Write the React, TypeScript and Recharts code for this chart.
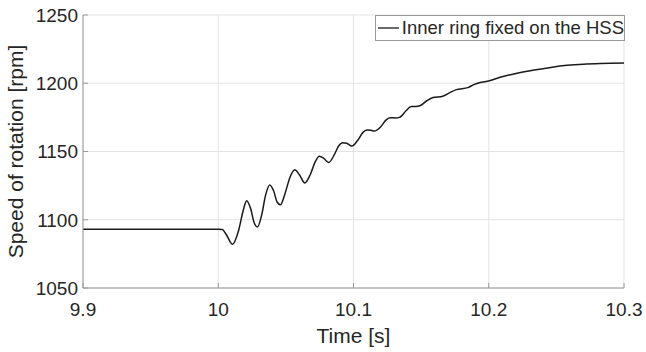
import { CartesianGrid, Line, LineChart, XAxis, YAxis } from "recharts";

const timeSeconds = [
  9.9, 9.95, 10.0, 10.003, 10.006, 10.0105, 10.015, 10.0185, 10.021, 10.024, 10.0265, 10.029,
  10.032, 10.035, 10.038, 10.041, 10.0435, 10.046, 10.049, 10.053, 10.0566, 10.06, 10.064,
  10.068, 10.0715, 10.0748, 10.078, 10.0816, 10.086, 10.089, 10.092, 10.095, 10.0988, 10.103,
  10.107, 10.11, 10.113, 10.1152, 10.12, 10.124, 10.127, 10.131, 10.134, 10.139, 10.1426,
  10.146, 10.149, 10.154, 10.1588, 10.166, 10.171, 10.176, 10.1846, 10.189, 10.193, 10.2005,
  10.209, 10.221, 10.2336, 10.2458, 10.258, 10.27, 10.2826, 10.3
];

const speedRpm = [
  1093, 1093, 1093, 1092.8, 1089, 1082, 1092, 1107, 1114, 1108, 1098, 1094.7,
  1103, 1118, 1125.5, 1121, 1113, 1111, 1118, 1131, 1136.6, 1133, 1127,
  1133, 1142, 1146.5, 1145, 1142, 1148, 1154, 1156.5, 1156, 1154, 1158,
  1164, 1165.7, 1165.5, 1165, 1168, 1173, 1174.7, 1174.6, 1175, 1180, 1183,
  1183, 1183.5, 1187, 1189.5, 1190.5, 1193, 1195.3, 1196.8, 1199, 1200.3, 1201.8,
  1204.6, 1207.4, 1209.7, 1211.6, 1213.1, 1214, 1214.5, 1214.8
];

const xTicks = [9.9, 10, 10.1, 10.2, 10.3];
const yTicks = [1050, 1100, 1150, 1200, 1250];
const seriesName = "Inner ring fixed on the HSS";

const data = timeSeconds.map((t, i) => ({ t, speed: speedRpm[i] }));

const FONT = "'Liberation Sans', Arial, sans-serif";
const TEXT = "#262626";
const BOX = "#999999";
const LINE = "#1a1a1a";
const TICK_LEN = 5;
const TICK_FONT = 19;

function BottomTick({ x, y, payload }: any) {
  return (
    <g>
      <line x1={x} y1={y} x2={x} y2={y - TICK_LEN} stroke={BOX} />
      <text x={x} y={y + 27.5} textAnchor="middle" fill={TEXT} fontSize={TICK_FONT} fontFamily={FONT}>
        {payload.value}
      </text>
    </g>
  );
}

function LeftTick({ x, y, payload }: any) {
  return (
    <g>
      <line x1={x} y1={y} x2={x + TICK_LEN} y2={y} stroke={BOX} />
      <text x={x - 5} y={y} dy="0.36em" textAnchor="end" fill={TEXT} fontSize={TICK_FONT} fontFamily={FONT}>
        {payload.value}
      </text>
    </g>
  );
}

function TopTick({ x, y }: any) {
  return <line x1={x} y1={y} x2={x} y2={y + TICK_LEN} stroke={BOX} />;
}

function RightTick({ x, y }: any) {
  return <line x1={x} y1={y} x2={x - TICK_LEN} y2={y} stroke={BOX} />;
}

// legend drawn like MATLAB's: boxed, sitting in the top right corner of the axes
function LegendBox() {
  return (
    <div
      style={{
        position: "absolute",
        left: 375,
        top: 15,
        width: 250,
        height: 26,
        boxSizing: "border-box",
        display: "flex",
        alignItems: "center",
        border: `1px solid ${BOX}`,
        background: "#fff",
        paddingLeft: 2,
        fontFamily: FONT,
        fontSize: 18.5,
        color: TEXT,
        whiteSpace: "nowrap"
      }}
    >
      <svg width={21} height={10} style={{ marginRight: 3 }}>
        <line x1={0} y1={5} x2={21} y2={5} stroke={LINE} strokeWidth={1.3} />
      </svg>
      {seriesName}
    </div>
  );
}

export default function App() {
  return (
    <div style={{ position: "absolute", left: 0, top: 0, width: 646, height: 352, background: "#fff" }}>
      <LineChart width={646} height={352} data={data} margin={{ top: 15, right: 22, bottom: 0, left: 0 }}>
        <CartesianGrid stroke="#e3e3e3" horizontalValues={yTicks} verticalValues={xTicks} />
        <XAxis
          dataKey="t"
          type="number"
          domain={[9.9, 10.3]}
          ticks={xTicks}
          allowDataOverflow
          height={64}
          stroke={BOX}
          tickLine={false}
          tickSize={0}
          tickMargin={0}
          tick={<BottomTick />}
          interval={0}
          label={{ value: "Time [s]", position: "insideBottom", offset: 9, fill: TEXT, fontSize: 21, fontFamily: FONT }}
        />
        <XAxis
          xAxisId="top"
          dataKey="t"
          type="number"
          orientation="top"
          domain={[9.9, 10.3]}
          ticks={xTicks}
          allowDataOverflow
          height={0}
          stroke={BOX}
          tickLine={false}
          tickSize={0}
          tickMargin={0}
          tick={<TopTick />}
          interval={0}
        />
        <YAxis
          type="number"
          domain={[1050, 1250]}
          ticks={yTicks}
          allowDataOverflow
          width={83}
          stroke={BOX}
          tickLine={false}
          tickSize={0}
          tickMargin={0}
          tick={<LeftTick />}
          interval={0}
          label={{
            value: "Speed of rotation [rpm]",
            angle: -90,
            position: "insideLeft",
            offset: 16,
            style: { textAnchor: "middle" },
            fill: TEXT,
            fontSize: 21,
            fontFamily: FONT
          }}
        />
        <YAxis
          yAxisId="right"
          type="number"
          orientation="right"
          domain={[1050, 1250]}
          ticks={yTicks}
          allowDataOverflow
          width={0}
          stroke={BOX}
          tickLine={false}
          tickSize={0}
          tickMargin={0}
          tick={<RightTick />}
          interval={0}
        />
        <Line
          type="monotone"
          dataKey="speed"
          name={seriesName}
          stroke={LINE}
          strokeWidth={1.5}
          dot={false}
          isAnimationActive={false}
        />
      </LineChart>
      <LegendBox />
    </div>
  );
}
